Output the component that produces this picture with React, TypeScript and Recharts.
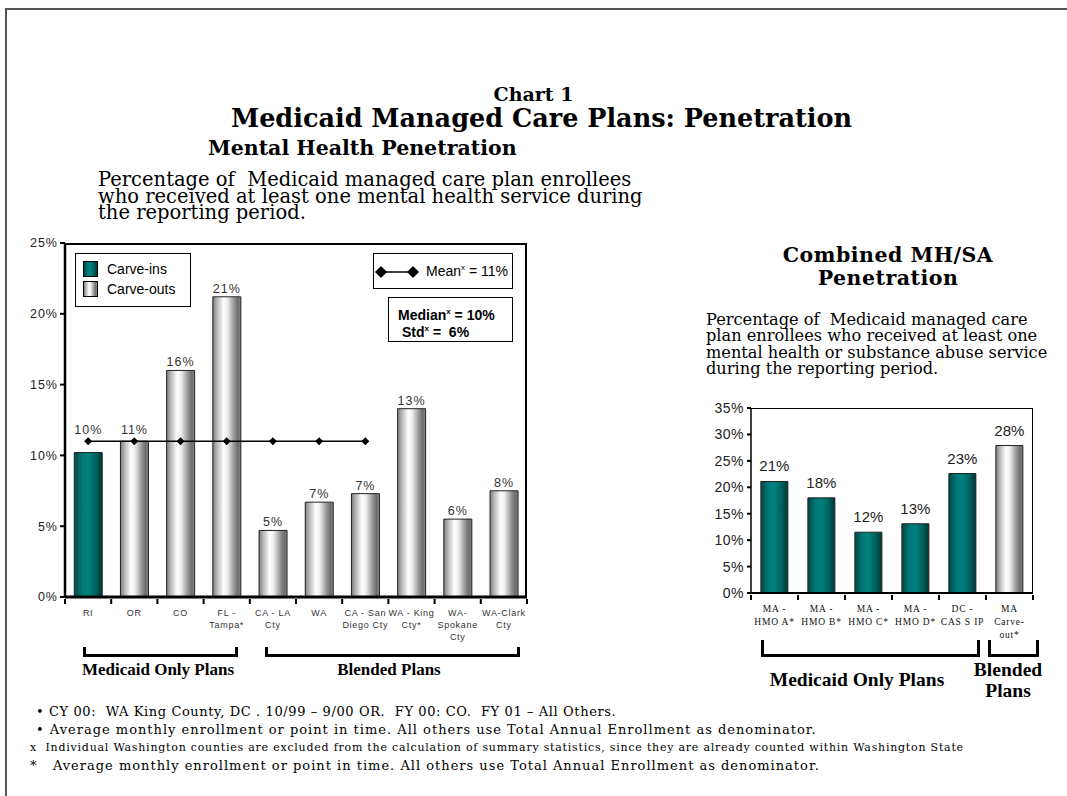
import React from 'react';
import { ComposedChart, Bar, Line, XAxis, YAxis, Cell, LabelList } from 'recharts';

// Mental health penetration (left chart)
const mhCategories = ['RI', 'OR', 'CO', 'FL -\nTampa*', 'CA - LA\nCty', 'WA', 'CA - San\nDiego Cty', 'WA - King\nCty*', 'WA-\nSpokane\nCty', 'WA-Clark\nCty'];
const mhValues = [10.2, 11.0, 16.0, 21.2, 4.7, 6.7, 7.3, 13.3, 5.5, 7.5];
const mhTypes = ['in', 'out', 'out', 'out', 'out', 'out', 'out', 'out', 'out', 'out'];
const mhMean = [11, 11, 11, 11, 11, 11, 11, null, null, null];
const mhTicks = [0, 5, 10, 15, 20, 25];

// Combined MH/SA penetration (right chart)
const saCategories = ['MA -\nHMO A*', 'MA -\nHMO B*', 'MA -\nHMO C*', 'MA -\nHMO D*', 'DC -\nCAS S IP', 'MA\nCarve-\nout*'];
const saValues = [21.1, 18.0, 11.5, 13.1, 22.6, 27.9];
const saTypes = ['in', 'in', 'in', 'in', 'in', 'out'];
const saTicks = [0, 5, 10, 15, 20, 25, 30, 35];

const mhData = mhCategories.map((c, i) => ({ name: c, value: mhValues[i], type: mhTypes[i], mean: mhMean[i] }));
const saData = saCategories.map((c, i) => ({ name: c, value: saValues[i], type: saTypes[i] }));

const SANS = '"Liberation Sans", Arial, sans-serif';
const SERIF = '"DejaVu Serif", serif';
const TIMES = '"Liberation Serif", serif';

// plot geometry
const L = { w: 540, h: 700, top: 243, left: 65, plotW: 462, plotH: 354 };
const R = { x: 700, w: 350, h: 700, top: 408, left: 751, plotW: 282, plotH: 185 };

const pct = (v: any) => `${v}%`;

const Gradients = ({ id }: { id: string }) => (
  <defs>
    <linearGradient id={`out-${id}`} x1="0" y1="0" x2="1" y2="0">
      <stop offset="0%" stopColor="#7c7c7c" />
      <stop offset="14%" stopColor="#b4b4b4" />
      <stop offset="38%" stopColor="#ffffff" />
      <stop offset="52%" stopColor="#ededed" />
      <stop offset="76%" stopColor="#959595" />
      <stop offset="90%" stopColor="#6c6c6c" />
      <stop offset="100%" stopColor="#8a8a8a" />
    </linearGradient>
    <linearGradient id={`in-${id}`} x1="0" y1="0" x2="1" y2="0">
      <stop offset="0%" stopColor="#004846" />
      <stop offset="30%" stopColor="#007a77" />
      <stop offset="50%" stopColor="#00817e" />
      <stop offset="78%" stopColor="#00605d" />
      <stop offset="100%" stopColor="#003533" />
    </linearGradient>
  </defs>
);

const makeTick = (bw: number, fontFamily: string, fontSize: number, spacing: number, lineH: number, total: number, color = '#333') =>
  (props: any) => {
    const { x, y, payload, index } = props;
    const lines = String(payload.value).split('\n');
    return (
      <g>
        <line x1={x - bw / 2} x2={x - bw / 2} y1={y} y2={y + 5} stroke="#000" strokeWidth={2} />
        {index === total - 1 && <line x1={x + bw / 2} x2={x + bw / 2} y1={y} y2={y + 5} stroke="#000" strokeWidth={2} />}
        {lines.map((l, i) => (
          <text key={i} x={x} y={y + 17 + i * lineH} textAnchor="middle" fontFamily={fontFamily} fontSize={fontSize}
            letterSpacing={spacing} fill={color}>{l}</text>
        ))}
      </g>
    );
  };

const meanY = L.top + (1 - 11 / 25) * L.plotH;

const MhLabel = (props: any) => {
  const { x, y, width, value } = props;
  let ty = y - 4;
  if (Math.abs(y - meanY) < 15) ty = Math.min(ty, meanY - 7);
  return (
    <text x={x + width / 2} y={ty} textAnchor="middle" fontFamily={SANS} fontSize={12.5} letterSpacing={1} fill="#333">
      {Math.round(value)}%
    </text>
  );
};

const Diamond = (props: any) => {
  const { cx, cy, value } = props;
  if (value == null || cx == null) return null;
  return <polygon points={`${cx},${cy - 4} ${cx + 4},${cy} ${cx},${cy + 4} ${cx - 4},${cy}`} fill="#000" />;
};

const abs = (s: React.CSSProperties): React.CSSProperties => ({ position: 'absolute', ...s });

const Bracket = ({ x1, x2, top, h }: { x1: number; x2: number; top: number; h: number }) => (
  <div style={abs({ left: x1, top, width: x2 - x1, height: h, borderLeft: '3px solid #000', borderRight: '3px solid #000', borderBottom: '3px solid #000', boxSizing: 'border-box' })} />
);

const swatch = (bg: string): React.CSSProperties => ({ width: 15, height: 16, border: '1px solid #000', background: bg, boxSizing: 'border-box' });
const outBg = 'linear-gradient(90deg,#7c7c7c 0%,#b4b4b4 14%,#fff 38%,#ededed 52%,#959595 76%,#6c6c6c 90%,#8a8a8a 100%)';
const inBg = 'linear-gradient(90deg,#004846 0%,#007a77 30%,#00817e 50%,#00605d 78%,#003533 100%)';

export default function App() {
  return (
    <div style={abs({ left: 0, top: 0, width: 1067, height: 796, background: '#fff', overflow: 'hidden' })}>
      <div style={abs({ left: 5, top: 8, width: 1100, height: 800, borderTop: '2px solid #555', borderLeft: '2px solid #555' })} />

      {/* left chart */}
      <div style={abs({ left: 0, top: 0 })}>
        <ComposedChart width={L.w} height={L.h} data={mhData} margin={{ top: L.top, right: 13, bottom: 53, left: 25 }} barCategoryGap="20%">
          <Gradients id="mh" />
          <XAxis dataKey="name" height={50} interval={0} tickLine={false} tickSize={0} axisLine={{ stroke: '#000', strokeWidth: 3 }}
            tick={makeTick(L.plotW / mhCategories.length, SANS, 9, 0.7, 12, mhCategories.length)} />
          <YAxis width={40} domain={[0, 25]} ticks={mhTicks} tickFormatter={pct} tickSize={5} tickMargin={2}
            axisLine={{ stroke: '#000', strokeWidth: 2.5 }} tickLine={{ stroke: '#000', strokeWidth: 2 }}
            tick={{ fontFamily: SANS, fontSize: 12.5, fill: '#222', letterSpacing: 1 }} />
          <Bar dataKey="value" isAnimationActive={false} stroke="#222" strokeWidth={1}>
            {mhData.map((d, i) => <Cell key={i} fill={d.type === 'in' ? 'url(#in-mh)' : 'url(#out-mh)'} />)}
            <LabelList dataKey="value" content={MhLabel} />
          </Bar>
          <Line dataKey="mean" stroke="#000" strokeWidth={1.3} dot={Diamond} activeDot={false} isAnimationActive={false} connectNulls={false} />
        </ComposedChart>
      </div>
      <div style={abs({ left: L.left, top: L.top, width: L.plotW, height: L.plotH, borderTop: '2px solid #000', borderRight: '2px solid #000', boxSizing: 'border-box' })} />

      {/* left legend */}
      <div style={abs({ left: 75, top: 253, width: 116, height: 54, border: '1.5px solid #000', boxSizing: 'border-box', background: '#fff', fontFamily: SANS, fontSize: 14 })}>
        <div style={abs({ left: 7, top: 7, display: 'flex', alignItems: 'center', gap: 9 })}><div style={swatch(inBg)} /><span>Carve-ins</span></div>
        <div style={abs({ left: 7, top: 27, display: 'flex', alignItems: 'center', gap: 9 })}><div style={swatch(outBg)} /><span>Carve-outs</span></div>
      </div>
      <div style={abs({ left: 373, top: 253, width: 140, height: 36, border: '1.5px solid #000', boxSizing: 'border-box', background: '#fff', fontFamily: SANS, fontSize: 14 })}>
        <svg style={abs({ left: 1, top: 11 })} width={44} height={14}>
          <line x1={6} x2={38} y1={7} y2={7} stroke="#000" strokeWidth={1.5} />
          <polygon points="6,1 12,7 6,13 0,7" fill="#000" />
          <polygon points="38,1 44,7 38,13 32,7" fill="#000" />
        </svg>
        <div style={abs({ left: 52, top: 9, whiteSpace: 'nowrap' })}>Mean<sup style={{ fontSize: 8 }}>x</sup> = 11%</div>
      </div>
      <div style={abs({ left: 388, top: 297, width: 125, height: 45, border: '1.5px solid #000', boxSizing: 'border-box', background: '#fff', fontFamily: SANS, fontSize: 14, fontWeight: 'bold', lineHeight: '16px' })}>
        <div style={abs({ left: 9, top: 6, whiteSpace: 'nowrap' })}>Median<sup style={{ fontSize: 8 }}>x</sup> = 10%</div>
        <div style={abs({ left: 13, top: 23, whiteSpace: 'pre' })}>Std<sup style={{ fontSize: 8 }}>x</sup> =  6%</div>
      </div>

      {/* right chart */}
      <div style={abs({ left: R.x, top: 0 })}>
        <ComposedChart width={R.w} height={R.h} data={saData} margin={{ top: R.top, right: 17, bottom: 57, left: 6 }} barCategoryGap="21%">
          <Gradients id="sa" />
          <XAxis dataKey="name" height={50} interval={0} tickLine={false} tickSize={0} axisLine={{ stroke: '#000', strokeWidth: 2 }}
            tick={makeTick(R.plotW / saCategories.length, TIMES, 9.5, 0.8, 13, saCategories.length, '#111')} />
          <YAxis width={45} domain={[0, 35]} ticks={saTicks} tickFormatter={pct} tickSize={4} tickMargin={3}
            axisLine={{ stroke: '#000', strokeWidth: 1.5 }} tickLine={{ stroke: '#000', strokeWidth: 2 }}
            tick={{ fontFamily: SANS, fontSize: 14, fill: '#222', letterSpacing: 0.5 }} />
          <Bar dataKey="value" isAnimationActive={false} stroke="#222" strokeWidth={1}>
            {saData.map((d, i) => <Cell key={i} fill={d.type === 'in' ? 'url(#in-sa)' : 'url(#out-sa)'} />)}
            <LabelList dataKey="value" position="top" offset={10} formatter={(v: any) => `${Math.round(v)}%`}
              style={{ fontFamily: SANS, fontSize: 15, fill: '#222' }} />
          </Bar>
        </ComposedChart>
      </div>
      <div style={abs({ left: R.left, top: R.top, width: R.plotW, height: R.plotH, borderTop: '1.5px solid #000', borderRight: '1.5px solid #000', boxSizing: 'border-box' })} />

      {/* titles */}
      <div style={abs({ left: 0, width: 1067, top: 82, textAlign: 'center', fontFamily: SERIF, fontWeight: 'bold', fontSize: 19, lineHeight: '24px' })}>Chart 1</div>
      <div style={abs({ left: 8, width: 1067, top: 102, textAlign: 'center', fontFamily: SERIF, fontWeight: 'bold', fontSize: 25.5, lineHeight: '32px' })}>Medicaid Managed Care Plans: Penetration</div>
      <div style={abs({ left: 208, top: 135, fontFamily: SERIF, fontWeight: 'bold', fontSize: 20.5, lineHeight: '26px', whiteSpace: 'nowrap' })}>Mental Health Penetration</div>
      <div style={abs({ left: 98, top: 172, fontFamily: SERIF, fontSize: 19.5, lineHeight: '16.5px', whiteSpace: 'pre' })}>
        {'Percentage of  Medicaid managed care plan enrollees\nwho received at least one mental health service during\nthe reporting period.'}
      </div>
      <div style={abs({ left: 740, width: 296, top: 243, textAlign: 'center', fontFamily: SERIF, fontWeight: 'bold', fontSize: 20.5, letterSpacing: 0.5, lineHeight: '24px' })}>Combined MH/SA</div>
      <div style={abs({ left: 740, width: 296, top: 266, textAlign: 'center', fontFamily: SERIF, fontWeight: 'bold', fontSize: 20.5, letterSpacing: 0.5, lineHeight: '24px' })}>Penetration</div>
      <div style={abs({ left: 706, top: 312, fontFamily: SERIF, fontSize: 16.2, lineHeight: '16.3px', whiteSpace: 'pre' })}>
        {'Percentage of  Medicaid managed care\nplan enrollees who received at least one\nmental health or substance abuse service\nduring the reporting period.'}
      </div>

      {/* group brackets */}
      <Bracket x1={83} x2={238} top={647} h={10} />
      <Bracket x1={265} x2={520} top={647} h={10} />
      <div style={abs({ left: 58, width: 200, top: 659, textAlign: 'center', fontFamily: TIMES, fontWeight: 'bold', fontSize: 17, lineHeight: '22px' })}>Medicaid Only Plans</div>
      <div style={abs({ left: 289, width: 200, top: 659, textAlign: 'center', fontFamily: TIMES, fontWeight: 'bold', fontSize: 17, lineHeight: '22px' })}>Blended Plans</div>
      <Bracket x1={761} x2={980} top={640} h={17} />
      <Bracket x1={988} x2={1039} top={640} h={17} />
      <div style={abs({ left: 757, width: 200, top: 668, textAlign: 'center', fontFamily: TIMES, fontWeight: 'bold', fontSize: 19.5, lineHeight: '24px' })}>Medicaid Only Plans</div>
      <div style={abs({ left: 958, width: 100, top: 659, textAlign: 'center', fontFamily: TIMES, fontWeight: 'bold', fontSize: 19.5, lineHeight: '21px' })}>Blended<br />Plans</div>

      {/* footnotes */}
      <div style={abs({ left: 36, top: 703, fontFamily: SERIF, fontSize: 13, letterSpacing: 0.9, whiteSpace: 'pre', lineHeight: '18px' })}>
        <div style={{ letterSpacing: 0.6 }}>{'• CY 00:  WA King County, DC . 10/99 – 9/00 OR.  FY 00: CO.  FY 01 – All Others.'}</div>
        <div style={{ letterSpacing: 1 }}>{'• Average monthly enrollment or point in time. All others use Total Annual Enrollment as denominator.'}</div>
      </div>
      <div style={abs({ left: 30, top: 739, fontFamily: SERIF, fontSize: 11, letterSpacing: 0.77, whiteSpace: 'pre', lineHeight: '18px' })}>
        {'x  Individual Washington counties are excluded from the calculation of summary statistics, since they are already counted within Washington State'}
      </div>
      <div style={abs({ left: 30, top: 757, fontFamily: SERIF, fontSize: 13, letterSpacing: 1, whiteSpace: 'pre', lineHeight: '18px' })}>
        {'*   Average monthly enrollment or point in time. All others use Total Annual Enrollment as denominator.'}
      </div>
    </div>
  );
}
